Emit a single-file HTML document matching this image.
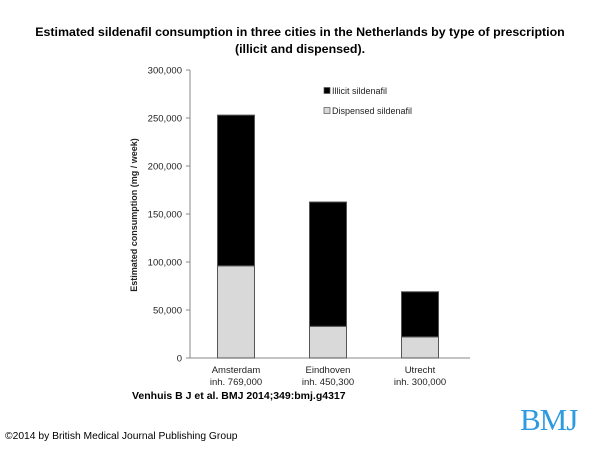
<!DOCTYPE html>
<html><head><meta charset="utf-8"><style>
body{margin:0;background:#fff;width:600px;height:450px;overflow:hidden;position:relative;font-family:"Liberation Sans",sans-serif}
.title{position:absolute;left:0;width:600px;top:24px;text-align:center;font-weight:bold;font-size:12.4px;line-height:17px;color:#000}
.cite{position:absolute;left:132px;top:390px;font-weight:bold;font-size:10.5px}
.copy{position:absolute;left:5px;top:431px;font-size:10.3px}
.bmj{position:absolute;left:520px;top:402px;font-family:"Liberation Serif",serif;font-size:31px;color:#2d9be0;letter-spacing:-1px}
</style></head><body>
<div class="title">Estimated sildenafil consumption in three cities in the Netherlands by type of prescription<br>(illicit and dispensed).</div>
<svg id="chart" width="600" height="450" style="position:absolute;left:0;top:0" font-family="Liberation Sans, sans-serif"></svg>
<div class="cite">Venhuis B J et al. BMJ 2014;349:bmj.g4317</div>
<div class="copy">©2014 by British Medical Journal Publishing Group</div>
<div class="bmj">BMJ</div>
<script>
const categories=["Amsterdam","Eindhoven","Utrecht"];
const subLabels=["inh. 769,000","inh. 450,300","inh. 300,000"];
const dispensed=[96000,33000,22000];
const illicit=[157000,129500,47000];
const ticks=[0,50000,100000,150000,200000,250000,300000];
const tickLabels=["0","50,000","100,000","150,000","200,000","250,000","300,000"];
const svg=document.getElementById('chart');
const NS="http://www.w3.org/2000/svg";
const x0=190,x1=466,y0=358,yTop=70,yMax=300000;
const y=v=>y0-(v/yMax)*(y0-yTop);
const band=(x1-x0)/categories.length;
const xc=i=>x0+band*(i+0.5);
const bw=37;
function mk(t,a){const e=document.createElementNS(NS,t);for(const k in a)e.setAttribute(k,a[k]);svg.appendChild(e);return e;}
let e=mk('line',{x1:x0,y1:yTop,x2:x0,y2:y0,stroke:'#888','stroke-width':1});


e=mk('line',{x1:x0,y1:y0,x2:x1+4,y2:y0,stroke:'#888','stroke-width':1});


ticks.forEach((t,i)=>{
 const tk=mk('line',{x1:x0-4,y1:y(t),x2:x0,y2:y(t),stroke:'#888'});
 
 
 const tl=mk('text',{x:x0-8,y:y(t)+3.5,'text-anchor':'end','font-size':'9.5px',fill:'#222'});
 tl.textContent=tickLabels[i];
 
 
});
categories.forEach((c,i)=>{
 const cx=xc(i);
 const d=mk('rect',{x:cx-bw/2,y:y(dispensed[i]),width:bw,height:y0-y(dispensed[i]),fill:'#d9d9d9',stroke:'#555','stroke-width':1});
 
 
 const tot=dispensed[i]+illicit[i];
 const il=mk('rect',{x:cx-bw/2,y:y(tot),width:bw,height:y(dispensed[i])-y(tot),fill:'#000',stroke:'#555','stroke-width':1});
 
 
 const t1=mk('text',{x:cx,y:y0+15,'text-anchor':'middle','font-size':'9.5px',fill:'#222'});
 t1.textContent=c;
 
 
 const t2=mk('text',{x:cx,y:y0+27,'text-anchor':'middle','font-size':'9.5px',fill:'#222'});
 t2.textContent=subLabels[i];
 
 
});
const at=mk('text',{x:0,y:0,'text-anchor':'middle','font-size':'9px','font-weight':'bold',fill:'#222',transform:'translate(137,215) rotate(-90)'});
at.textContent='Estimated consumption (mg / week)';


const leg=[["Illicit sildenafil","#000",91],["Dispensed sildenafil","#d9d9d9",111]];
leg.forEach(l=>{
 const s=mk('rect',{x:324,y:l[2]-3.5,width:6,height:6,fill:l[1],stroke:'#555','stroke-width':0.7});
 
 
 const t=mk('text',{x:332,y:l[2]+3,'font-size':'9px',fill:'#222'});
 t.textContent=l[0];
 
 
});
</script>
</body></html>
